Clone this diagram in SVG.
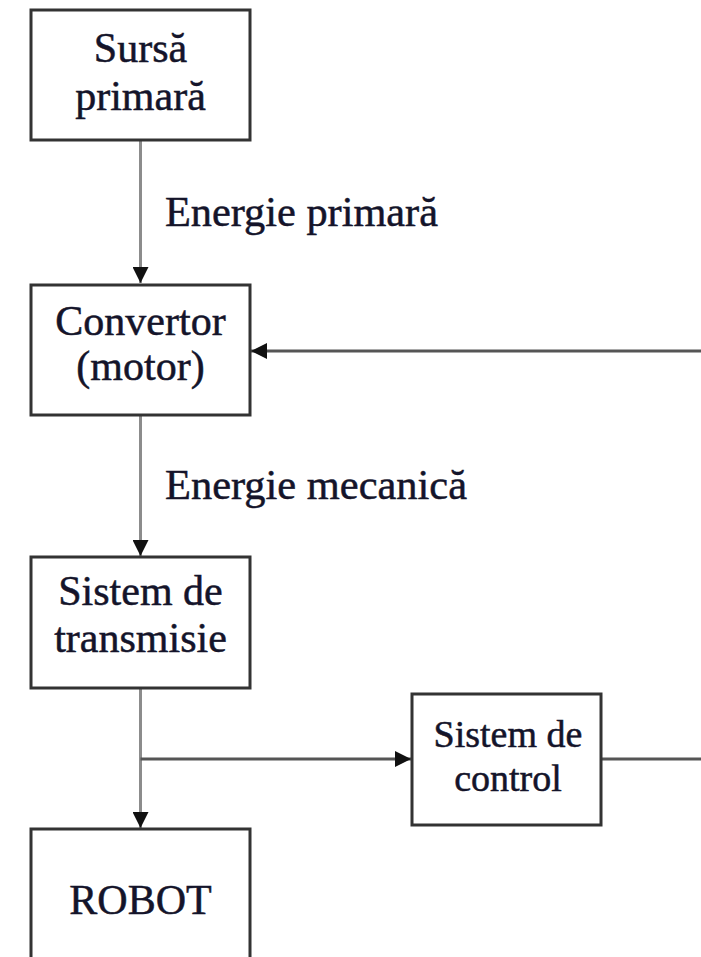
<svg xmlns="http://www.w3.org/2000/svg" width="701" height="957" viewBox="0 0 701 957">
  <defs>
    <marker id="arrow" viewBox="0 0 16 16" refX="16" refY="8" markerWidth="16" markerHeight="16" markerUnits="userSpaceOnUse" orient="auto">
      <path d="M0,0 L16,8 L0,16 Z" fill="#111"/>
    </marker>
    <style>
      .box { fill: #fff; stroke: #333; stroke-width: 3; }
      .lbl { font-family: "Liberation Serif", "Times New Roman", serif; font-size: 42px; fill: #14142a; stroke: #14142a; stroke-width: 0.5; text-anchor: middle; }
      .edge { font-family: "Liberation Serif", "Times New Roman", serif; font-size: 42px; fill: #14142a; stroke: #14142a; stroke-width: 0.5; }
      .v { stroke: #8c8c8c; stroke-width: 3; fill: none; }
      .h { stroke: #555; stroke-width: 3; fill: none; }
    </style>
  </defs>
  <rect width="701" height="957" fill="#fff"/>

  <g id="connectors">
    <line class="v" x1="140.5" y1="140" x2="140.5" y2="283" marker-end="url(#arrow)"/>
    <line class="v" x1="140.5" y1="415" x2="140.5" y2="556" marker-end="url(#arrow)"/>
    <line class="v" x1="140.5" y1="688" x2="140.5" y2="828" marker-end="url(#arrow)"/>
    <line class="h" x1="140.5" y1="759" x2="411" y2="759" marker-end="url(#arrow)"/>
    <line class="h" x1="601" y1="759" x2="701" y2="759"/>
    <line class="h" x1="701" y1="351" x2="251" y2="351" marker-end="url(#arrow)"/>
    <text class="edge" x="165" y="226" textLength="273" lengthAdjust="spacingAndGlyphs">Energie primară</text>
    <text class="edge" x="165" y="499" textLength="302" lengthAdjust="spacingAndGlyphs">Energie mecanică</text>
  </g>

  <g id="sursa-primara">
    <rect class="box" x="31" y="10" width="219" height="130"/>
    <text class="lbl" x="140.5" y="62">Sursă</text>
    <text class="lbl" x="140.5" y="110">primară</text>
  </g>

  <g id="convertor">
    <rect class="box" x="31" y="285" width="219" height="130"/>
    <text class="lbl" x="140.5" y="335">Convertor</text>
    <text class="lbl" x="140.5" y="380">(motor)</text>
  </g>

  <g id="sistem-transmisie">
    <rect class="box" x="31" y="557" width="219" height="131"/>
    <text class="lbl" x="140.5" y="605">Sistem de</text>
    <text class="lbl" x="140.5" y="652">transmisie</text>
  </g>

  <g id="sistem-control">
    <rect class="box" x="412" y="694" width="189" height="131"/>
    <text class="lbl" x="508" y="747" style="font-size:38px">Sistem de</text>
    <text class="lbl" x="508" y="791" style="font-size:38px">control</text>
  </g>

  <g id="robot">
    <rect class="box" x="31" y="829" width="219" height="150"/>
    <text class="lbl" x="140.5" y="914">ROBOT</text>
  </g>
</svg>
